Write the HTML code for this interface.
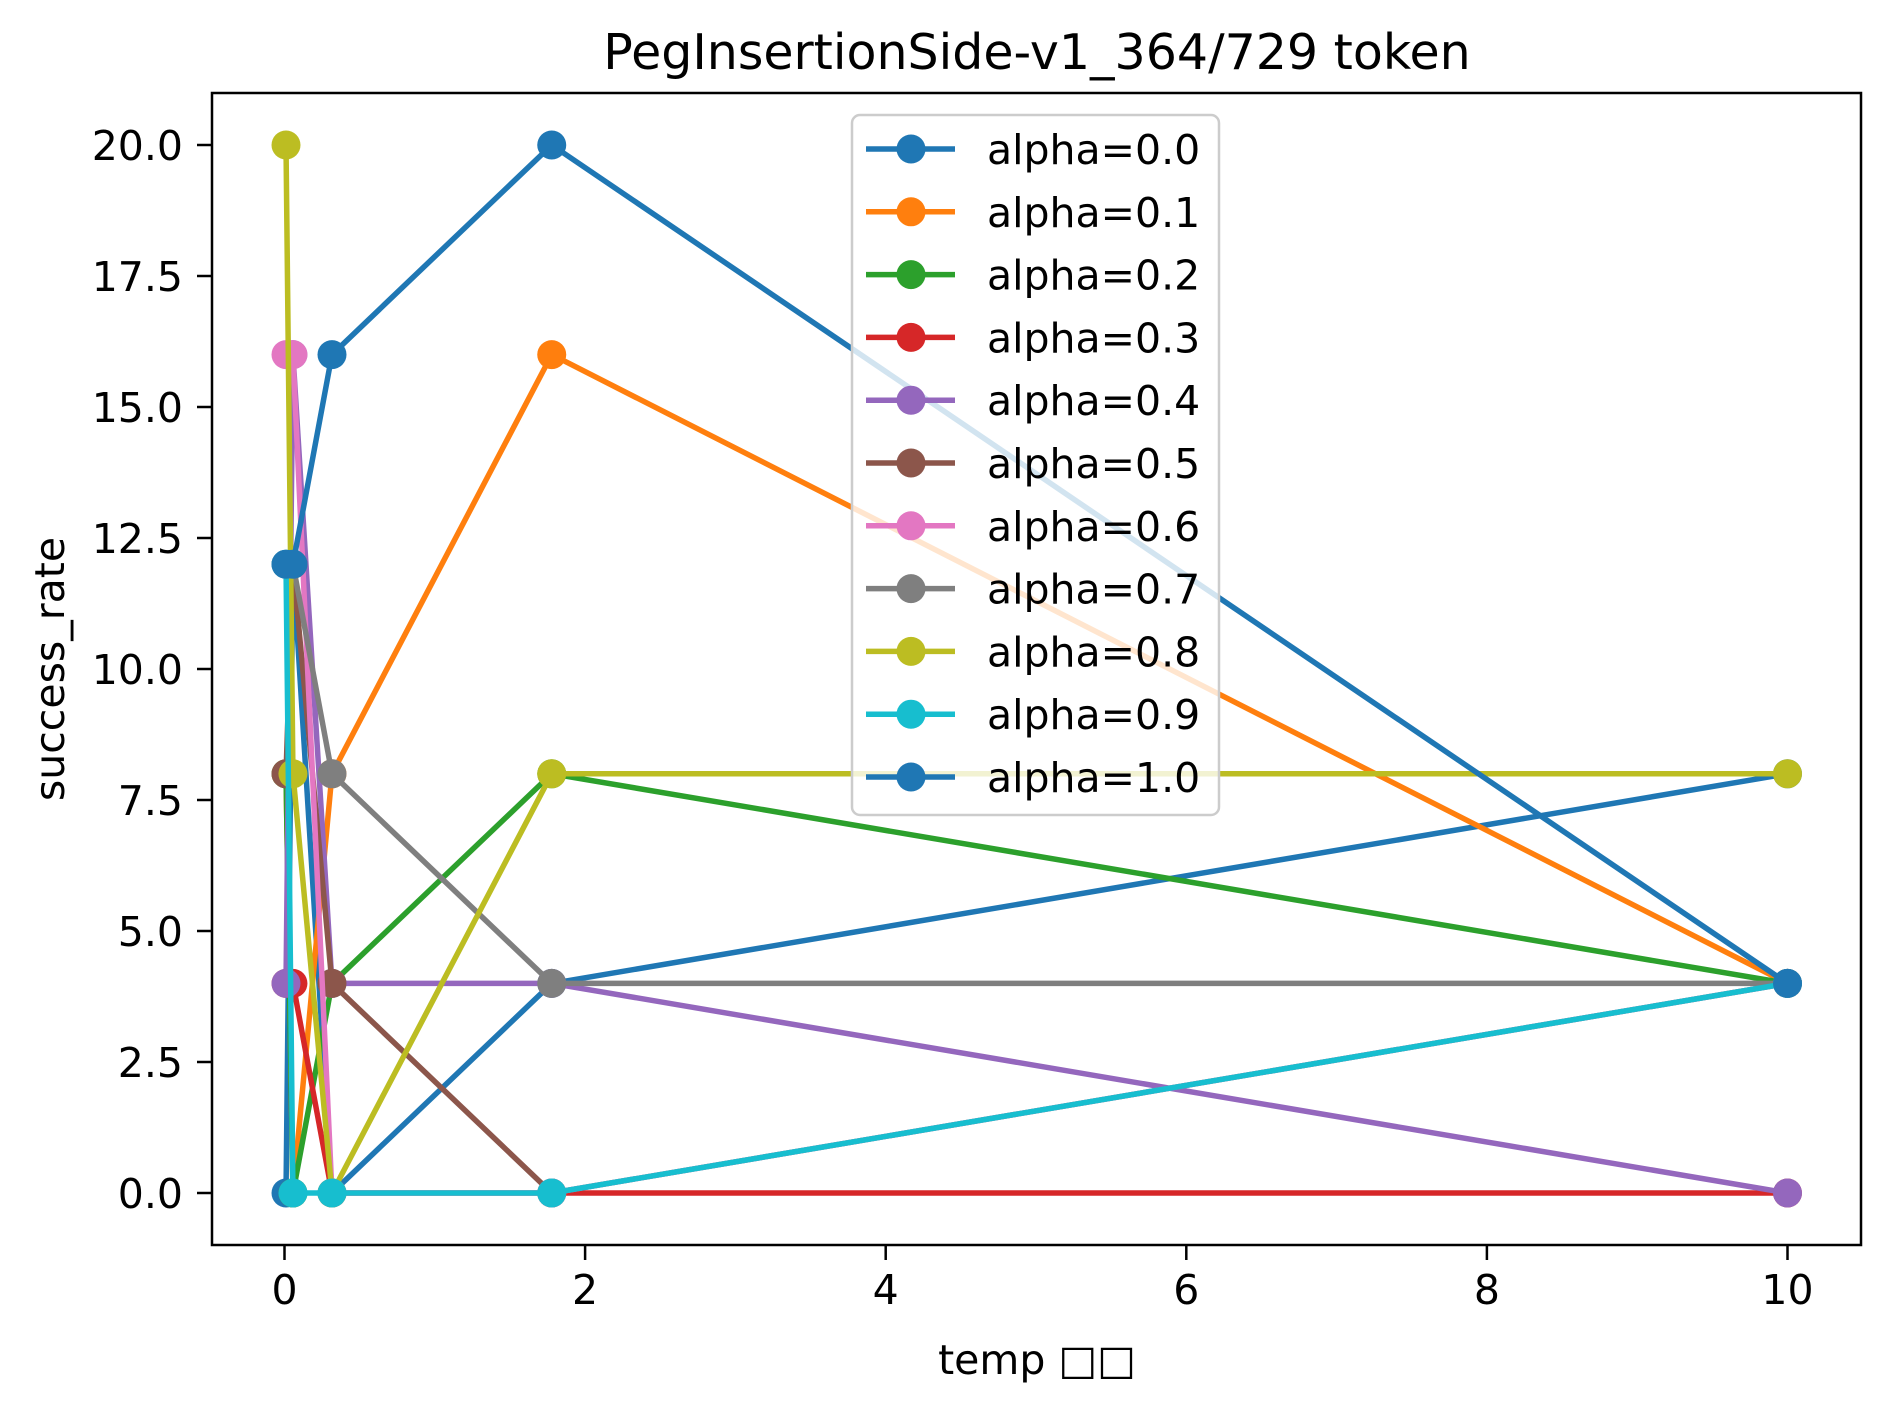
<!DOCTYPE html>
<html><head><meta charset="utf-8"><style>
html,body{margin:0;padding:0;background:#fff;}
svg text{font-family:"DejaVu Sans","Liberation Sans","Noto Sans CJK SC",sans-serif;fill:#000;}
</style></head><body>
<svg id="chart" width="1890" height="1406" viewBox="0 0 1890 1406" xmlns="http://www.w3.org/2000/svg">
<rect width="1890" height="1406" fill="#fff"/>
<text x="1037" y="69" font-size="49" text-anchor="middle">PegInsertionSide-v1_364/729 token</text>
<g id="xticks"></g><g id="yticks"></g>
<g id="series"></g>
<rect x="212" y="93" width="1649" height="1152" fill="none" stroke="#000" stroke-width="2.5"/>
<text x="1037" y="1374" font-size="41" text-anchor="middle">temp □□</text>
<text x="64" y="669" font-size="41" text-anchor="middle" transform="rotate(-90 64 669)">success_rate</text>
<g id="legend"></g>
</svg>
<script>
const temps = [0.01, 0.0562, 0.316, 1.778, 10];
const seriesLabels = ["alpha=0.0","alpha=0.1","alpha=0.2","alpha=0.3","alpha=0.4","alpha=0.5","alpha=0.6","alpha=0.7","alpha=0.8","alpha=0.9","alpha=1.0"];
const s00 = [0, 12, 0, 4, 8];
const s01 = [8, 0, 8, 16, 4];
const s02 = [8, 0, 4, 8, 4];
const s03 = [4, 4, 0, 0, 0];
const s04 = [4, 16, 4, 4, 0];
const s05 = [8, 12, 4, 0, 4];
const s06 = [16, 16, 0, 0, 4];
const s07 = [12, 12, 8, 4, 4];
const s08 = [20, 8, 0, 8, 8];
const s09 = [12, 0, 0, 0, 4];
const s10 = [12, 12, 16, 20, 4];
const xTickLabels = ["0","2","4","6","8","10"];
const xTickValues = [0,2,4,6,8,10];
const yTickLabels = ["0.0","2.5","5.0","7.5","10.0","12.5","15.0","17.5","20.0"];
const yTickValues = [0,2.5,5,7.5,10,12.5,15,17.5,20];

const allSeries=[s00,s01,s02,s03,s04,s05,s06,s07,s08,s09,s10];
const colors=["#1f77b4","#ff7f0e","#2ca02c","#d62728","#9467bd","#8c564b","#e377c2","#7f7f7f","#bcbd22","#17becf","#1f77b4"];
const NS="http://www.w3.org/2000/svg";
const X=v=>284.5+v*150.3;
const Y=v=>1193-v*52.4;
function mk(tag,attrs,parent){const e=document.createElementNS(NS,tag);for(const k in attrs)e.setAttribute(k,attrs[k]);parent.appendChild(e);return e;}
const xt=document.getElementById('xticks');
xTickValues.forEach((v,i)=>{
  const l=mk('line',{x1:X(v),x2:X(v),y1:1245,y2:1260,stroke:'#000','stroke-width':2.5},xt);
  
  
  const t=mk('text',{x:X(v),y:1304,'font-size':41,'text-anchor':'middle'},xt);
  t.textContent=xTickLabels[i];
  
  
});
const yt=document.getElementById('yticks');
yTickValues.forEach((v,i)=>{
  const l=mk('line',{x1:197,x2:212,y1:Y(v),y2:Y(v),stroke:'#000','stroke-width':2.5},yt);
  
  
  const t=mk('text',{x:183,y:Y(v)+15,'font-size':41,'text-anchor':'end'},yt);
  t.textContent=yTickLabels[i];
  
  
});
const sg=document.getElementById('series');
allSeries.forEach((s,k)=>{
  const g=mk('g',{},sg);
  
  
  const pts=s.map((v,i)=>X(temps[i])+','+Y(v)).join(' ');
  const pl=mk('polyline',{points:pts,fill:'none',stroke:colors[k],'stroke-width':5.5,'stroke-linejoin':'round'},g);
  
  
  s.forEach((v,i)=>{
    const c=mk('circle',{cx:X(temps[i]),cy:Y(v),r:14.5,fill:colors[k]},g);
    
    
  });
});
const lg=document.getElementById('legend');
mk('rect',{x:852,y:115,width:367,height:700,rx:8,fill:'#fff','fill-opacity':0.8,stroke:'#ccc','stroke-width':2.5},lg);
seriesLabels.forEach((lab,k)=>{
  const y=149+k*62.8;
  const g=mk('g',{},lg);
  
  
  mk('line',{x1:866,x2:955,y1:y,y2:y,stroke:colors[k],'stroke-width':5.5},g);
  mk('circle',{cx:911,cy:y,r:14.5,fill:colors[k]},g);
  const t=mk('text',{x:987,y:y+15,'font-size':41},g);
  t.textContent=lab;
});
</script>
</body></html>
